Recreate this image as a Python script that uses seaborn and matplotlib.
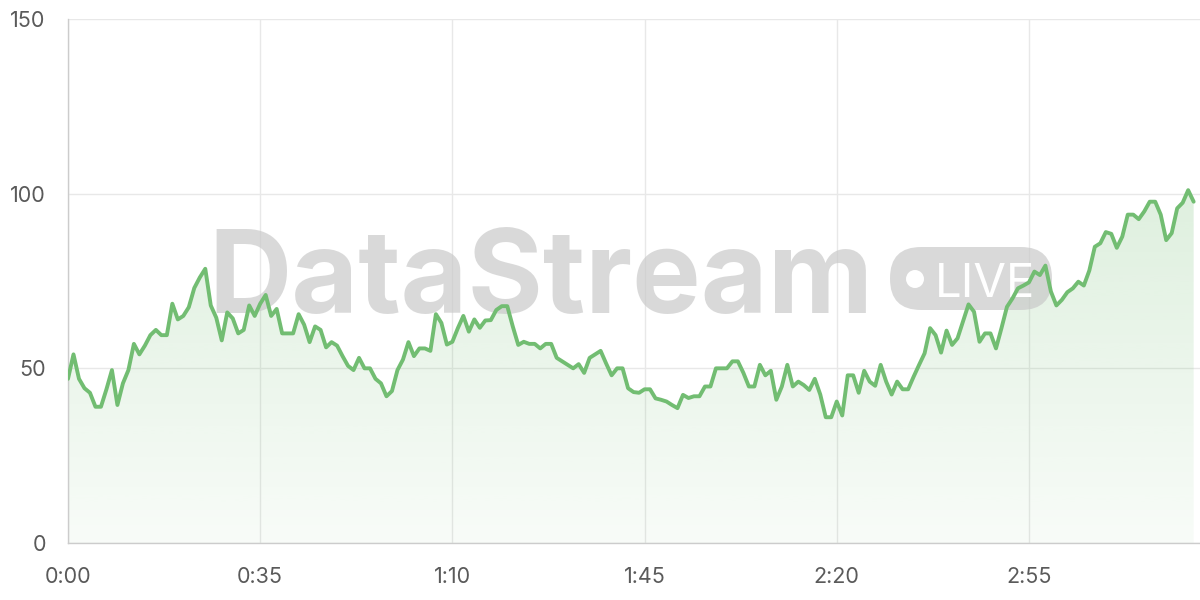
import numpy as np
import pandas as pd
import matplotlib
matplotlib.use("Agg")
import matplotlib.pyplot as plt
import matplotlib.colors as mcolors
from matplotlib.patches import FancyBboxPatch, Circle
from matplotlib.transforms import IdentityTransform
import seaborn as sns

# one reading per second, 0:00 .. 3:25
values = [
    47, 54, 47, 44.3, 43, 39, 39, 44, 49.5, 39.5,
    45.7, 49.5, 57, 54, 56.5, 59.5, 61, 59.5, 59.5, 68.5,
    64, 65, 67.5, 73, 76, 78.5, 68, 64.5, 58, 66,
    64.3, 60, 61, 68, 65, 68.5, 71, 65, 67, 60,
    60, 60, 65.5, 62.5, 57.5, 62, 61, 56, 57.5, 56.5,
    53.5, 50.7, 49.5, 53, 50, 50, 47, 45.7, 42, 43.5,
    49.5, 52.5, 57.5, 53.5, 55.7, 55.7, 55, 65.5, 63, 56.8,
    57.6, 61.5, 65, 60.5, 64, 61.6, 63.7, 63.8, 66.7, 67.8,
    67.8, 62, 56.7, 57.6, 57, 57, 55.7, 57, 57, 53,
    52, 51, 50, 51.2, 48.7, 53, 54, 55, 51.4, 48,
    50, 50, 44.3, 43.2, 43, 44, 44, 41.4, 41, 40.5,
    39.5, 38.6, 42.4, 41.5, 42, 42, 44.8, 44.8, 50, 50,
    50, 52, 52, 48.7, 44.8, 44.8, 51, 48, 49.3, 41,
    44.8, 51, 44.8, 46.2, 45.2, 43.8, 47, 42.5, 36, 36,
    40.5, 36.5, 48, 48, 43, 49.3, 46.2, 45, 51, 46.2,
    42.5, 46.2, 44, 44, 47.6, 51, 54.3, 61.5, 59.5, 54.5,
    60.8, 56.7, 58.6, 63.4, 68.3, 66.2, 57.6, 60, 60, 55.7,
    61.5, 67.6, 70, 72.9, 73.7, 74.6, 77.7, 76.7, 79.4, 72,
    68, 69.6, 71.8, 72.9, 74.8, 73.7, 78, 84.8, 85.8, 89,
    88.5, 84.5, 87.7, 94, 94, 92.7, 94.9, 97.7, 97.7, 94,
    86.7, 88.7, 95.8, 97.4, 101, 97.7,
]
seconds = list(range(len(values)))

tick_seconds = [0, 35, 70, 105, 140, 175]
tick_labels = ["0:00", "0:35", "1:10", "1:45", "2:20", "2:55"]
y_ticks = [0, 50, 100, 150]

df = pd.DataFrame({"t": seconds, "v": values})

sns.set_theme(style="white")
plt.rcParams["font.family"] = ["Inter", "DejaVu Sans"]

line_color = "#72bd72"
grid_color = "#e8e8e8"
text_color = "#5a5a5a"

fig = plt.figure(figsize=(12, 6), dpi=100)
ax = fig.add_axes([68 / 1200, 57 / 600, 1132 / 1200, 524 / 600])

# gradient area under the line
area = ax.fill_between(df.t, df.v, 0, color="none", lw=0)
rgba = np.zeros((256, 1, 4))
rgba[..., :3] = mcolors.to_rgb(line_color)
rgba[:, 0, 3] = np.linspace(0.05, 0.32, 256)
img = ax.imshow(rgba, aspect="auto", origin="lower",
                extent=[0, seconds[-1], 0, 150], zorder=1, interpolation="bilinear")
img.set_clip_path(area.get_paths()[0], transform=ax.transData)

sns.lineplot(data=df, x="t", y="v", color=line_color, lw=2.8, ax=ax, zorder=5)

# watermark
wm = "#c8c8c8"
ax.text(208, 600 - 313, "DataStream", transform=IdentityTransform(),
        fontsize=83, fontweight="bold", color=wm, alpha=0.68,
        ha="left", va="baseline", zorder=3)
pill = FancyBboxPatch((890, 290), 162, 63, boxstyle="round,pad=0,rounding_size=31",
                      transform=IdentityTransform(), fc=wm, ec="none", alpha=0.68, zorder=3)
ax.add_artist(pill)
ax.add_artist(Circle((915, 321), 9, transform=IdentityTransform(), fc="white", ec="none", zorder=3.5))
ax.text(935, 600 - 297, "LIVE", transform=IdentityTransform(), fontsize=34,
        color="white", ha="left", va="baseline", zorder=3.5)

ax.set_xlim(0, 1132 / 5.491)
ax.set_ylim(0, 150)
ax.set_xticks(tick_seconds)
ax.set_xticklabels(tick_labels)
ax.set_yticks(y_ticks)
ax.grid(True, color=grid_color, lw=1)
ax.set_axisbelow(True)
ax.set_xlabel("")
ax.set_ylabel("")
ax.tick_params(axis="both", length=0, labelsize=15.5, labelcolor=text_color)
ax.tick_params(axis="x", pad=17)
ax.tick_params(axis="y", pad=16)
for side in ["top", "right"]:
    ax.spines[side].set_visible(False)
for side in ["left", "bottom"]:
    ax.spines[side].set_color("#cccccc")
    ax.spines[side].set_linewidth(1)

fig.savefig("out.png", dpi=100)
